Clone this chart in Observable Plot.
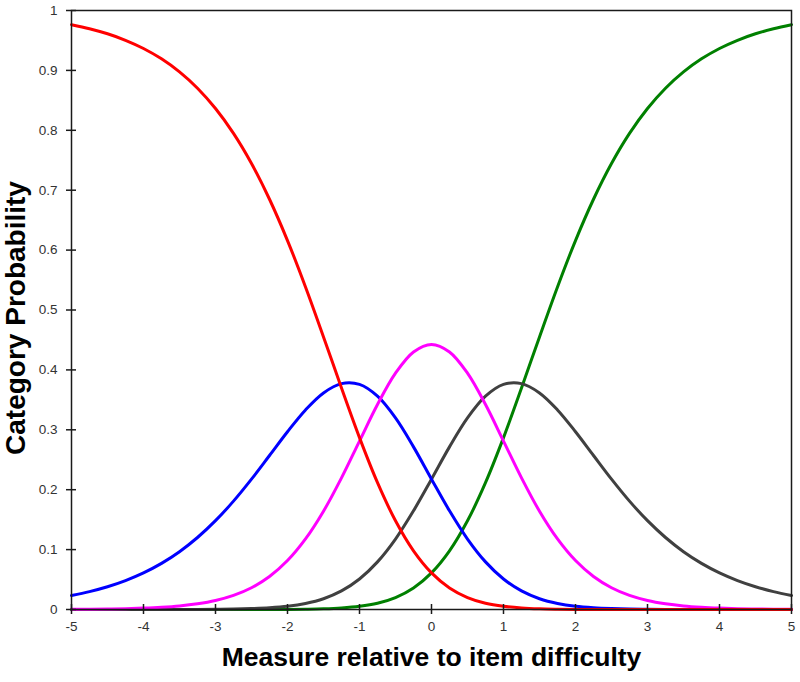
<!DOCTYPE html>
<html>
<head>
<meta charset="utf-8">
<script src="https://cdn.jsdelivr.net/npm/d3@7"></script>
<script src="https://cdn.jsdelivr.net/npm/@observablehq/plot@0.6"></script>
<style>
  html, body { margin: 0; padding: 0; background: #fff; }
  svg { display: block; }
</style>
</head>
<body>
<div id="chart"></div>
<script>
const measure = [-5, -4.75, -4.5, -4.25, -4, -3.75, -3.5, -3.25, -3, -2.75, -2.5, -2.25, -2, -1.75, -1.5, -1.25, -1, -0.75, -0.5, -0.25, 0,
  0.25, 0.5, 0.75, 1, 1.25, 1.5, 1.75, 2, 2.25, 2.5, 2.75, 3, 3.25, 3.5, 3.75, 4, 4.25, 4.5, 4.75, 5];

const cat0 = [0.9763, 0.9696, 0.9611, 0.9503, 0.9366, 0.9193, 0.8975, 0.8702, 0.8363, 0.7948, 0.7445, 0.6849, 0.6159, 0.5385, 0.4551, 0.3697, 0.2869, 0.2117, 0.1481, 0.0979, 0.0611,
  0.0360, 0.0200, 0.0105, 0.0053, 0.0025, 0.0011, 0.0005, 0.0002, 0.0001, 0, 0, 0, 0, 0, 0, 0, 0, 0, 0, 0];
const cat1 = [0.0234, 0.0299, 0.0380, 0.0483, 0.0611, 0.0770, 0.0965, 0.1202, 0.1483, 0.1809, 0.2176, 0.2571, 0.2968, 0.3332, 0.3616, 0.3771, 0.3758, 0.3561, 0.3198, 0.2715, 0.2176,
  0.1647, 0.1176, 0.0795, 0.0509, 0.0310, 0.0180, 0.0101, 0.0054, 0.0029, 0.0015, 0.0007, 0.0004, 0.0002, 0.0001, 0, 0, 0, 0, 0, 0];
const cat2 = [0.0003, 0.0005, 0.0009, 0.0014, 0.0023, 0.0037, 0.0059, 0.0095, 0.0150, 0.0235, 0.0363, 0.0551, 0.0817, 0.1178, 0.1641, 0.2198, 0.2812, 0.3422, 0.3945, 0.4300, 0.4426,
  0.4300, 0.3945, 0.3422, 0.2812, 0.2198, 0.1641, 0.1178, 0.0817, 0.0551, 0.0363, 0.0235, 0.0150, 0.0095, 0.0059, 0.0037, 0.0023, 0.0014, 0.0009, 0.0005, 0.0003];
const cat3 = [0, 0, 0, 0, 0, 0, 0.0001, 0.0002, 0.0004, 0.0007, 0.0015, 0.0029, 0.0054, 0.0101, 0.0180, 0.0310, 0.0509, 0.0795, 0.1176, 0.1647, 0.2176,
  0.2715, 0.3198, 0.3561, 0.3758, 0.3771, 0.3616, 0.3332, 0.2968, 0.2571, 0.2176, 0.1809, 0.1483, 0.1202, 0.0965, 0.0770, 0.0611, 0.0483, 0.0380, 0.0299, 0.0234];
const cat4 = [0, 0, 0, 0, 0, 0, 0, 0, 0, 0, 0, 0.0001, 0.0002, 0.0005, 0.0011, 0.0025, 0.0053, 0.0105, 0.0200, 0.0360, 0.0611,
  0.0979, 0.1481, 0.2117, 0.2869, 0.3697, 0.4551, 0.5385, 0.6159, 0.6849, 0.7445, 0.7948, 0.8363, 0.8702, 0.8975, 0.9193, 0.9366, 0.9503, 0.9611, 0.9696, 0.9763];

const seriesNames = ["cat0", "cat1", "cat2", "cat3", "cat4"];
const seriesColors = ["#ff0000", "#0000ff", "#ff00ff", "#404040", "#008000"];
const drawOrder = ["cat4", "cat3", "cat1", "cat2", "cat0"];

const xTicks = [-5, -4, -3, -2, -1, 0, 1, 2, 3, 4, 5];
const yTicks = [0, 0.1, 0.2, 0.3, 0.4, 0.5, 0.6, 0.7, 0.8, 0.9, 1];

const xTitle = "Measure relative to item difficulty";
const yTitle = "Category Probability";

const seriesValues = {cat0, cat1, cat2, cat3, cat4};
const rows = [];
for (const name of drawOrder) {
  seriesValues[name].forEach((v, i) => rows.push({series: name, x: measure[i], y: v}));
}

const chart = Plot.plot({
  width: 800,
  height: 682,
  marginLeft: 71,
  marginRight: 9,
  marginTop: 10,
  marginBottom: 73,
  style: {fontFamily: "Liberation Sans, Arial, sans-serif", background: "#fff"},
  x: {domain: [-5, 5]},
  y: {domain: [0, 1]},
  color: {domain: seriesNames, range: seriesColors},
  marks: [
    Plot.line(rows, {x: "x", y: "y", z: "series", stroke: "series", strokeWidth: 3, curve: "catmull-rom"}),
    Plot.frame({stroke: "#1a1a1a", strokeWidth: 1.5}),
    Plot.axisY(yTicks, {tickSize: 10, dx: 5, stroke: "#1a1a1a", strokeWidth: 1.5, label: null, tickFormat: () => ""}),
    Plot.axisX(xTicks, {tickSize: 10, dy: -5, stroke: "#1a1a1a", strokeWidth: 1.5, label: null, tickFormat: () => ""}),
    Plot.text(yTicks, {y: d => d, text: d => String(d), frameAnchor: "left", dx: -14, textAnchor: "end", fontSize: 13.5, fill: "#333"}),
    Plot.text(xTicks, {x: d => d, text: d => String(d), frameAnchor: "bottom", dy: 21, fontSize: 13.5, fill: "#333"}),
    Plot.text([xTitle], {frameAnchor: "bottom", dy: 56, lineAnchor: "bottom", fontSize: 26.5, fontWeight: "bold", fill: "#000"}),
    Plot.text([yTitle], {frameAnchor: "left", rotate: -90, dx: -47, dy: 8, lineAnchor: "bottom", textAnchor: "middle", fontSize: 28, fontWeight: "bold", fill: "#000"})
  ]
});
document.getElementById("chart").appendChild(chart);
</script>
</body>
</html>
